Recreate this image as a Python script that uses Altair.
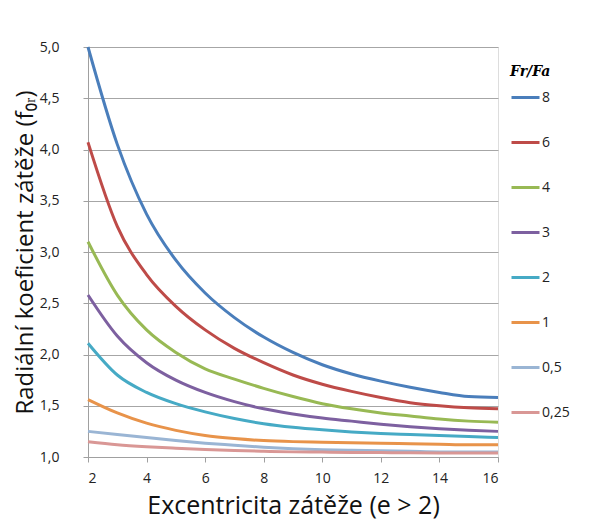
import altair as alt
import pandas as pd

x_vals = [2, 3, 4, 5, 6, 7, 8, 9, 10, 11, 12, 13, 14, 15, 16]
series_names = ["8", "6", "4", "3", "2", "1", "0,5", "0,25"]
colors = ["#4A7EBB", "#BE4B48", "#98B954", "#7D60A0", "#46AAC5", "#E8934A", "#9AB5D4", "#D99795"]

s8 = [5.0, 4.05, 3.37, 2.92, 2.6, 2.36, 2.17, 2.02, 1.9, 1.81, 1.74, 1.68, 1.63, 1.59, 1.58]
s6 = [4.07, 3.25, 2.78, 2.47, 2.24, 2.06, 1.92, 1.80, 1.71, 1.64, 1.58, 1.53, 1.50, 1.48, 1.47]
s4 = [3.1, 2.58, 2.24, 2.02, 1.86, 1.76, 1.67, 1.59, 1.52, 1.47, 1.43, 1.40, 1.37, 1.35, 1.34]
s3 = [2.58, 2.18, 1.92, 1.75, 1.63, 1.54, 1.47, 1.42, 1.38, 1.35, 1.32, 1.295, 1.275, 1.26, 1.25]
s2 = [2.11, 1.8, 1.63, 1.52, 1.44, 1.375, 1.325, 1.29, 1.265, 1.245, 1.23, 1.22, 1.21, 1.20, 1.19]
s1 = [1.56, 1.43, 1.33, 1.26, 1.21, 1.18, 1.16, 1.15, 1.145, 1.14, 1.135, 1.13, 1.125, 1.12, 1.12]
s05 = [1.25, 1.22, 1.19, 1.16, 1.135, 1.115, 1.095, 1.08, 1.07, 1.065, 1.06, 1.055, 1.05, 1.05, 1.05]
s025 = [1.15, 1.12, 1.10, 1.085, 1.072, 1.063, 1.056, 1.05, 1.048, 1.045, 1.043, 1.041, 1.04, 1.04, 1.04]

all_series = [s8, s6, s4, s3, s2, s1, s05, s025]
rows = []
for name, vals in zip(series_names, all_series):
    for xv, yv in zip(x_vals, vals):
        rows.append({"e": xv, "f": yv, "s": name})
df = pd.DataFrame(rows)

font = "Open Sans"

chart = alt.Chart(df).mark_line(strokeWidth=3, interpolate="monotone").encode(
    x=alt.X("e:Q", scale=alt.Scale(domain=[2, 16], nice=False),
            axis=alt.Axis(values=[2, 4, 6, 8, 10, 12, 14, 16], grid=False,
                          title="Excentricita zátěže (e > 2)", titleFontSize=25,
                          titleFontWeight="normal", titlePadding=8,
                          labelFontSize=14, labelPadding=9, tickSize=5,
                          tickColor="#A0A0A0", domainColor="#A0A0A0",
                          labelColor="#222222", titleColor="#111111")),
    y=alt.Y("f:Q", scale=alt.Scale(domain=[1, 5], nice=False),
            axis=alt.Axis(values=[1, 1.5, 2, 2.5, 3, 3.5, 4, 4.5, 5],
                          labelExpr="replace(format(datum.value, '.1f'), '.', ',')",
                          title="Radiální koeficient  zátěže (f₀ᵣ)", titleFontSize=24,
                          titleFontWeight="normal", titleX=-63, titleY=205,
                          titleAngle=-90, titleBaseline="middle", titleAlign="center",
                          labelFontSize=14, labelPadding=24, tickSize=5,
                          tickColor="#A0A0A0", domainColor="#A0A0A0",
                          gridColor="#A6A6A6", labelColor="#222222", titleColor="#111111")),
    color=alt.Color("s:N", scale=alt.Scale(domain=series_names, range=colors),
                    sort=series_names,
                    legend=alt.Legend(title="Fr/Fa", orient="none", legendX=422, legendY=18,
                                      symbolType="stroke", symbolSize=784, symbolStrokeWidth=3,
                                      labelFontSize=14, labelOffset=1, rowPadding=22,
                                      titleFont="DejaVu Serif", titleFontStyle="italic",
                                      titleFontWeight="bold", titleFontSize=14,
                                      titlePadding=3, labelColor="#222222")),
).properties(
    width=410, height=410,
    autosize=alt.AutoSizeParams(type="none"),
    padding={"left": 80, "top": 39, "right": 92, "bottom": 63},
).configure_view(stroke=None).configure(font=font)

chart.save("out.html", embed_options={"renderer": "svg", "actions": False})
